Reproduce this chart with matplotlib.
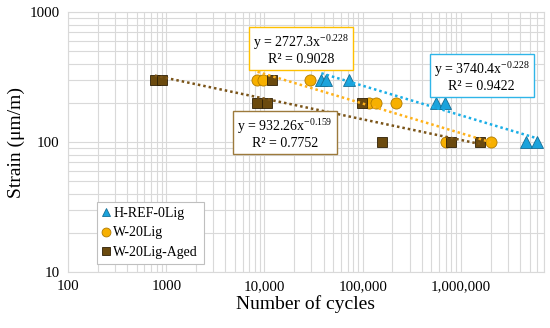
import numpy as np
import matplotlib
matplotlib.use("Agg")
import matplotlib.pyplot as plt
from matplotlib.ticker import FixedLocator, LogLocator, NullFormatter, FuncFormatter

plt.rcParams["font.family"] = ["Liberation Serif", "DejaVu Serif"]
plt.rcParams["mathtext.fontset"] = "custom"
plt.rcParams["mathtext.rm"] = "Liberation Serif"
plt.rcParams["mathtext.it"] = "Liberation Serif:italic"

# series (cycles, strain in um/m)
href_cycles = [37900, 42600, 73000, 557000, 689000, 4570000, 5910000]
href_strain = [300, 300, 300, 200, 200, 100, 100]

w20_cycles = [8490, 9550, 29300, 116000, 137000, 219000, 705000, 2020000]
w20_strain = [300, 300, 300, 200, 200, 200, 100, 100]

aged_cycles = [765, 900, 12000, 8490, 10700, 98800, 158000, 791000, 1560000]
aged_strain = [300, 300, 300, 200, 200, 200, 100, 100, 100]

# power trendline coefficients as printed on the chart: y = a * x^b
href_fit = (3740.4, -0.228, 0.9422)
w20_fit = (2727.3, -0.228, 0.9028)
aged_fit = (932.26, -0.159, 0.7752)

BLUE = "#1BA3DC"
ORANGE = "#F7B000"
BROWN = "#6B4A0E"


def trend(ax, cycles, fit, color):
    a, b, _ = fit
    x = np.geomspace(min(cycles), max(cycles), 50)
    ax.plot(x, a * x ** b, linestyle=(0, (1, 1.2)), color=color, linewidth=1.8, zorder=5)


fig = plt.figure(figsize=(5.5, 3.28), dpi=100)
ax = fig.add_axes([0.1236, 0.1707, 0.8655, 0.7927])

ax.plot(href_cycles, href_strain, "^", color=BLUE, markeredgecolor="#146E96",
        markeredgewidth=0.6, markersize=8, linestyle="none", label="H-REF-0Lig", zorder=3)
ax.plot(w20_cycles, w20_strain, "o", color=ORANGE, markeredgecolor="#B07A00",
        markeredgewidth=0.6, markersize=8, linestyle="none", label="W-20Lig", zorder=3)
ax.plot(aged_cycles, aged_strain, "s", color=BROWN, markeredgecolor="#2E1F05",
        markeredgewidth=0.6, markersize=7.5, linestyle="none", label="W-20Lig-Aged", zorder=4)

trend(ax, href_cycles, href_fit, "#1AAEE6")
trend(ax, w20_cycles, w20_fit, "#FFB21A")
trend(ax, aged_cycles, aged_fit, "#7A5418")

ax.set_xscale("log")
ax.set_yscale("log")
ax.set_xlim(100, 7e6)
ax.set_ylim(10, 1000)

ax.xaxis.set_major_locator(FixedLocator([1e2, 1e3, 1e4, 1e5, 1e6]))
ax.xaxis.set_minor_locator(LogLocator(base=10, subs=np.arange(2, 10)))
ax.xaxis.set_minor_formatter(NullFormatter())
x_labels = {1e2: "100", 1e3: "1000", 1e4: "10,000", 1e5: "100,000", 1e6: "1,000,000"}
ax.xaxis.set_major_formatter(FuncFormatter(lambda v, p: x_labels.get(v, "")))

ax.yaxis.set_major_locator(FixedLocator([10, 100, 1000]))
ax.yaxis.set_minor_locator(LogLocator(base=10, subs=np.arange(2, 10)))
ax.yaxis.set_minor_formatter(NullFormatter())
ax.yaxis.set_major_formatter(FuncFormatter(lambda v, p: f"{v:.0f}"))

ax.grid(True, which="both", color="#D9D9D9", linewidth=0.8)
ax.set_axisbelow(True)
for s in ax.spines.values():
    s.set_color("#D9D9D9")
    s.set_linewidth(0.8)
ax.tick_params(which="both", length=0, labelsize=10.8, pad=6, colors="black")

ax.set_xlabel("Number of cycles", fontsize=14, labelpad=1)
ax.set_ylabel("Strain (\u03bcm/m)", fontsize=14, labelpad=3)


def eq_box(xf, yf, fit, edge):
    a, b, r2 = fit
    txt = f"y = {a}x$^{{{b}}}$\nR\u00b2 = {r2}"
    ax.text(xf, yf, txt, transform=ax.transAxes, ha="center", va="center",
            multialignment="center", fontsize=10, zorder=6, linespacing=1.1,
            bbox=dict(boxstyle="square,pad=0.3", facecolor="white", edgecolor=edge, linewidth=1.0))


eq_box(0.489, 0.856, w20_fit, "#FFC000")
eq_box(0.869, 0.752, href_fit, "#2FB5E8")
eq_box(0.456, 0.533, aged_fit, "#9C7A3C")

leg = ax.legend(loc="lower left", bbox_to_anchor=(0.06, 0.03), fontsize=10,
                frameon=True, fancybox=False, edgecolor="#BFBFBF", framealpha=1,
                handlelength=0.6, handletextpad=0.2, labelspacing=0.45,
                markerscale=0.8, borderpad=0.4, borderaxespad=0)
leg.get_frame().set_linewidth(0.8)

fig.savefig("out.png", dpi=100)
